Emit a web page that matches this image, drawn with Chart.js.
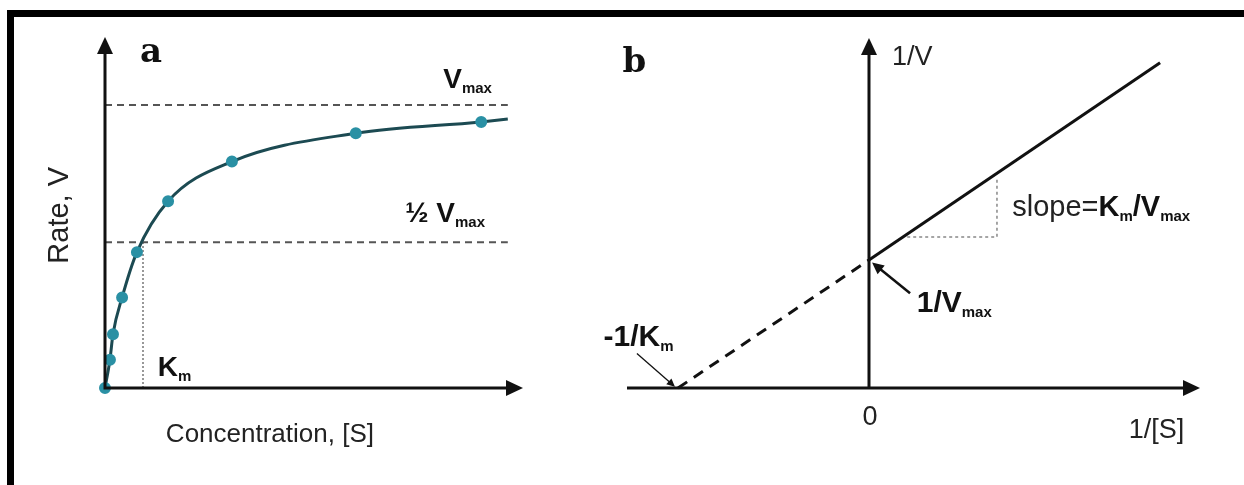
<!DOCTYPE html>
<html>
<head>
<meta charset="utf-8">
<title>Michaelis-Menten and Lineweaver-Burk</title>
<script src="https://cdn.jsdelivr.net/npm/chart.js@4.4.1/dist/chart.umd.min.js"></script>
<style>
  html, body { margin: 0; padding: 0; background: #fff; }
  #page { position: relative; width: 1244px; height: 485px; overflow: hidden; background: #fff; }
  #chartA { position: absolute; left: 0; top: 0; }
  #chartB { position: absolute; left: 600px; top: 0; }
  .frame-top { position: absolute; left: 7px; top: 10px; width: 1237px; height: 7px; background: #000; }
  .frame-left { position: absolute; left: 7px; top: 10px; width: 7px; height: 475px; background: #000; }
</style>
</head>
<body>
<div id="page">
  <canvas id="chartA" width="600" height="485"></canvas>
  <canvas id="chartB" width="644" height="485"></canvas>
  <div class="frame-top"></div>
  <div class="frame-left"></div>
</div>
<script>
// ---- panel a: rate vs substrate (units: Km = 1, Vmax = 1) ----
const substrateConc = [0, 0.13, 0.21, 0.45, 0.84, 1.66, 3.34, 6.6, 9.9, 10.6];
const rateValues    = [0, 0.10, 0.19, 0.32, 0.48, 0.66, 0.80, 0.90, 0.94, 0.95];
const hasMarker     = [1, 1, 1, 1, 1, 1, 1, 1, 1, 0];
const vmaxLevel = 1.0;
const halfLevel = 0.515;
const kmValue = 1.0;
const refLineEnd = 10.6;

// ---- panel b: double reciprocal (units: 1/Km = 1, 1/Vmax = 1) ----
const recipS = [-1, 0, 1.524];
const recipV = [0, 1, 2.54];
const slopeTriX = [0.2, 0.67, 0.67];
const slopeTriY = [1.18, 1.18, 1.65];

const SANS = '"Liberation Sans", Arial, sans-serif';
const SERIF = '"DejaVu Serif", "Liberation Serif", serif';

function pts(xs, ys) {
    return xs.map((v, i) => ({ x: v, y: ys[i] }));
}

function drawHead(ctx, tipX, tipY, dir, len, half) {
    ctx.beginPath();
    ctx.moveTo(tipX, tipY);
    if (dir === 'right') {
        ctx.lineTo(tipX - len, tipY - half);
        ctx.lineTo(tipX - len, tipY + half);
    } else {
        ctx.lineTo(tipX - half, tipY + len);
        ctx.lineTo(tipX + half, tipY + len);
    }
    ctx.closePath();
    ctx.fill();
}

// axes with arrow heads, placed through the scales
const arrowAxes = {
    id: 'arrowAxes',
    afterDatasetsDraw(chart, args, opts) {
        const { ctx, scales: { x, y } } = chart;
        const xStart = x.getPixelForValue(opts.xFrom);
        const xEnd = x.getPixelForValue(x.max);
        const yBase = y.getPixelForValue(0);
        const xZero = x.getPixelForValue(0);
        const yTop = y.getPixelForValue(y.max);
        ctx.save();
        ctx.strokeStyle = '#111';
        ctx.fillStyle = '#111';
        ctx.lineWidth = 3;
        ctx.beginPath();
        ctx.moveTo(xStart, yBase);
        ctx.lineTo(xEnd - 14, yBase);
        ctx.moveTo(xZero, yBase + 1.5);
        ctx.lineTo(xZero, yTop + 14);
        ctx.stroke();
        drawHead(ctx, xEnd, yBase, 'right', 17, 8);
        drawHead(ctx, xZero, yTop, 'up', 17, 8);
        ctx.restore();
    }
};

// text labels (with subscripts) and thin pointer arrows
const labels = {
    id: 'labels',
    afterDraw(chart, args, opts) {
        const { ctx, scales: { x, y } } = chart;
        ctx.save();
        (opts.pointers || []).forEach(p => {
            const x0 = x.getPixelForValue(p.from[0]), y0 = y.getPixelForValue(p.from[1]);
            const x1 = x.getPixelForValue(p.to[0]), y1 = y.getPixelForValue(p.to[1]);
            const ang = Math.atan2(y1 - y0, x1 - x0);
            ctx.strokeStyle = '#111';
            ctx.fillStyle = '#111';
            ctx.lineWidth = p.width || 1.5;
            ctx.beginPath();
            ctx.moveTo(x0, y0);
            ctx.lineTo(x1 - Math.cos(ang) * p.head * 0.8, y1 - Math.sin(ang) * p.head * 0.8);
            ctx.stroke();
            ctx.beginPath();
            ctx.moveTo(x1, y1);
            ctx.lineTo(x1 - Math.cos(ang - 0.45) * p.head, y1 - Math.sin(ang - 0.45) * p.head);
            ctx.lineTo(x1 - Math.cos(ang + 0.45) * p.head, y1 - Math.sin(ang + 0.45) * p.head);
            ctx.closePath();
            ctx.fill();
        });
        (opts.items || []).forEach(item => {
            const px = x.getPixelForValue(item.x);
            const py = y.getPixelForValue(item.y);
            ctx.save();
            ctx.translate(px, py);
            if (item.rotate) ctx.rotate(item.rotate);
            ctx.textBaseline = 'alphabetic';
            ctx.textAlign = 'left';
            let total = 0;
            item.parts.forEach(part => {
                ctx.font = part.font;
                total += ctx.measureText(part.t).width;
            });
            let cx = item.align === 'center' ? -total / 2 : 0;
            item.parts.forEach(part => {
                ctx.font = part.font;
                ctx.fillStyle = part.color || '#111';
                ctx.fillText(part.t, cx, part.dy || 0);
                cx += ctx.measureText(part.t).width;
            });
            ctx.restore();
        });
        ctx.restore();
    }
};

const baseOptions = (xMin, xMax, yMax, padding) => ({
    responsive: false,
    animation: false,
    events: [],
    layout: { padding: padding },
    plugins: { legend: { display: false }, tooltip: { enabled: false } },
    scales: {
        x: { type: 'linear', min: xMin, max: xMax, display: false },
        y: { type: 'linear', min: 0, max: yMax, display: false }
    }
});

// ---------- panel a ----------
const optsA = baseOptions(0, 11, 1.24, { left: 105, right: 77, top: 37, bottom: 97 });
optsA.plugins.arrowAxes = { xFrom: 0 };
optsA.plugins.labels = {
    items: [
        { x: 0.92, y: 1.15, parts: [{ t: 'a', font: 'bold 34px ' + SERIF }] },
        { x: 8.9, y: 1.06, parts: [
            { t: 'V', font: 'bold 28px ' + SANS },
            { t: 'max', font: 'bold 15px ' + SANS, dy: 5 }] },
        { x: 7.9, y: 0.587, parts: [
            { t: '\u00BD V', font: 'bold 28px ' + SANS },
            { t: 'max', font: 'bold 15px ' + SANS, dy: 5 }] },
        { x: 1.39, y: 0.042, parts: [
            { t: 'K', font: 'bold 28px ' + SANS },
            { t: 'm', font: 'bold 15px ' + SANS, dy: 5 }] },
        { x: 4.34, y: -0.19, align: 'center', parts: [
            { t: 'Concentration, [S]', font: '26px ' + SANS, color: '#222' }] },
        { x: -0.97, y: 0.61, align: 'center', rotate: -Math.PI / 2, parts: [
            { t: 'Rate, V', font: '29px ' + SANS, color: '#222' }] }
    ]
};

new Chart(document.getElementById('chartA'), {
    type: 'scatter',
    data: {
        datasets: [
            {
                data: pts(substrateConc, rateValues),
                showLine: true,
                cubicInterpolationMode: 'monotone',
                borderColor: '#1c4a52',
                borderWidth: 3,
                pointRadius: hasMarker.map(m => m ? 4.5 : 0),
                pointBackgroundColor: '#2a90a4',
                pointBorderColor: '#2a90a4',
                clip: false
            },
            {
                data: pts([0, refLineEnd], [vmaxLevel, vmaxLevel]),
                showLine: true,
                borderColor: '#555',
                borderWidth: 2,
                borderDash: [7, 5],
                pointRadius: 0,
                clip: false
            },
            {
                data: pts([0, refLineEnd], [halfLevel, halfLevel]),
                showLine: true,
                borderColor: '#555',
                borderWidth: 2,
                borderDash: [7, 5],
                pointRadius: 0,
                clip: false
            },
            {
                data: pts([kmValue, kmValue], [0, halfLevel]),
                showLine: true,
                borderColor: '#777',
                borderWidth: 1.5,
                borderDash: [2, 2],
                pointRadius: 0,
                clip: false
            }
        ]
    },
    options: optsA,
    plugins: [arrowAxes, labels]
});

// ---------- panel b ----------
const optsB = baseOptions(-1.267, 1.733, 2.734, { left: 27, right: 44, top: 38, bottom: 97 });
optsB.plugins.arrowAxes = { xFrom: -1.267 };
optsB.plugins.labels = {
    items: [
        { x: -1.29, y: 2.47, parts: [{ t: 'b', font: 'bold 34px ' + SERIF }] },
        { x: 0.12, y: 2.52, parts: [{ t: '1/V', font: '27px ' + SANS, color: '#222' }] },
        { x: 0.75, y: 1.34, parts: [
            { t: 'slope=', font: '29px ' + SANS, color: '#222' },
            { t: 'K', font: 'bold 29px ' + SANS },
            { t: 'm', font: 'bold 15px ' + SANS, dy: 5 },
            { t: '/V', font: 'bold 29px ' + SANS },
            { t: 'max', font: 'bold 15px ' + SANS, dy: 5 }] },
        { x: 0.25, y: 0.59, parts: [
            { t: '1/V', font: 'bold 30px ' + SANS },
            { t: 'max', font: 'bold 15px ' + SANS, dy: 5 }] },
        { x: -1.39, y: 0.33, parts: [
            { t: '-1/K', font: 'bold 30px ' + SANS },
            { t: 'm', font: 'bold 15px ' + SANS, dy: 5 }] },
        { x: 0.005, y: -0.29, align: 'center', parts: [{ t: '0', font: '27px ' + SANS, color: '#222' }] },
        { x: 1.36, y: -0.39, parts: [{ t: '1/[S]', font: '27px ' + SANS, color: '#222' }] }
    ],
    pointers: [
        { from: [0.215, 0.74], to: [0.016, 0.98], head: 13, width: 2.5 },
        { from: [-1.215, 0.27], to: [-1.016, 0.01], head: 9, width: 1.3 }
    ]
};

new Chart(document.getElementById('chartB'), {
    type: 'scatter',
    data: {
        datasets: [
            {
                data: pts(recipS.slice(1), recipV.slice(1)),
                showLine: true,
                borderColor: '#111',
                borderWidth: 3,
                pointRadius: 0,
                clip: false
            },
            {
                data: pts(recipS.slice(0, 2), recipV.slice(0, 2)),
                showLine: true,
                borderColor: '#111',
                borderWidth: 3,
                borderDash: [11, 8],
                pointRadius: 0,
                clip: false
            },
            {
                data: pts(slopeTriX, slopeTriY),
                showLine: true,
                borderColor: '#888',
                borderWidth: 1.5,
                borderDash: [3, 3],
                pointRadius: 0,
                clip: false
            }
        ]
    },
    options: optsB,
    plugins: [arrowAxes, labels]
});
</script>
</body>
</html>
